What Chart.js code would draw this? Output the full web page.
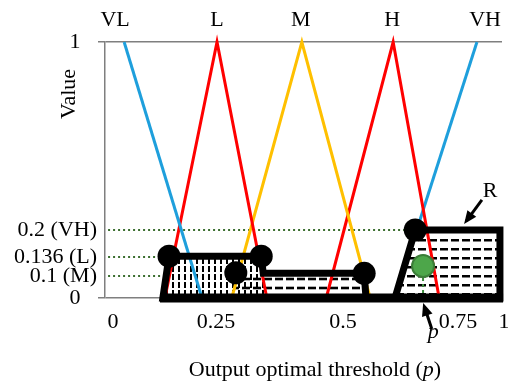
<!DOCTYPE html>
<html>
<head>
<meta charset="utf-8">
<script src="https://cdn.jsdelivr.net/npm/chart.js@4.4.1/dist/chart.umd.min.js"></script>
<style>
  html, body { margin: 0; padding: 0; background: #fff; }
  #wrap { width: 508px; height: 383px; }
</style>
</head>
<body>
<div id="wrap"><canvas id="fuzzyChart"></canvas></div>
<script>
var setNames = ["VL", "L", "M", "H", "VH"];
var setNameX = [0.005, 0.252, 0.417, 0.607, 0.897];

var vlX = [0.027, 0.216], vlY = [1, 0];
var lX = [0.126, 0.252, 0.350];
var mX = [0.281, 0.419, 0.559];
var hX = [0.467, 0.609, 0.709];
var vhX = [0.613, 0.853], vhY = [0, 1];
var triY = [0, 1, 0];

// axis ticks
var xTickValues = [0, 0.25, 0.5, 0.75, 1];
var xTickLabels = ["0", "0.25", "0.5", "0.75", "1"];
var yTickValues = [0, 0.1, 0.136, 0.2, 1];
var yTickLabels = ["0   ", "0.1 (M)", "0.136 (L)", "0.2 (VH)", "1   "];

// firing levels (dotted guides)
var levelY = [0.2, 0.136, 0.1];
var levelFromX = -0.012;
var levelToX = [0.657, 0.136, 0.289];

// clipped sets
var regionLX = [0.121, 0.136, 0.339, 0.350], regionLY = [0, 0.138, 0.138, 0];
var regionMX = [0.281, 0.289, 0.546, 0.550], regionMY = [0, 0.105, 0.105, 0];
var regionRX = [0.613, 0.657, 0.978, 0.978], regionRY = [0, 0.2, 0.2, 0];

var outlineX = [0.613, 0.657, 0.978, 0.978, 0.121, 0.136, 0.339, 0.343, 0.546, 0.550, 0.613];
var outlineY = [0, 0.2, 0.2, 0, 0, 0.138, 0.138, 0.105, 0.105, 0, 0];
var baseX = [0.114, 0.995], baseY = [0, 0];

var cornerX = [0.136, 0.339, 0.289, 0.546, 0.657];
var cornerY = [0.138, 0.138, 0.106, 0.105, 0.2];

// centroid p
var centroidX = 0.674, centroidY = 0.119;

// callouts: [tail, tip]
var rArrowX = [0.880, 0.796], rArrowY = [0.328, 0.239];
var pArrowX = [0.693, 0.677], pArrowY = [-0.141, -0.040];
var rLabelX = 0.924, rLabelY = 0.340;
var pLabelX = 0.696, pLabelY = -0.182;

function pts(xs, ys) {
  return xs.map(function (x, i) { return { x: x, y: ys[i] }; });
}

// the figure's axes are not evenly spaced, so map value -> fraction piecewise
function lerpBreaks(br, v, from, to) {
  var i = 1;
  while (i < br.length - 1 && v > br[i][from]) i++;
  var a = br[i - 1], b = br[i];
  return a[to] + (v - a[from]) * (b[to] - a[to]) / (b[from] - a[from]);
}

class BrokenScale extends Chart.LinearScale {
  getPixelForValue(value) {
    if (value === null || isNaN(value)) return NaN;
    return this.getPixelForDecimal(lerpBreaks(this.options.breaks, value, 0, 1));
  }
  getValueForPixel(pixel) {
    return lerpBreaks(this.options.breaks, this.getDecimalForPixel(pixel), 1, 0);
  }
  // labels may hang past the plot edge, as in the figure
  _calculatePadding() {
    this.paddingLeft = this.paddingRight = this.paddingTop = this.paddingBottom = 0;
  }
}
BrokenScale.id = "broken";
Chart.register(BrokenScale);

var xBreaks = [[0, 0.0202], [0.25, 0.2796], [0.5, 0.5995], [0.75, 0.8892], [1, 1.005]];
var yBreaks = [[0, 0], [0.1, 0.0859], [0.136, 0.1602], [0.2, 0.2656], [1, 1]];

function hatch(w, h, bg, rects) {
  var c = document.createElement("canvas");
  c.width = w; c.height = h;
  var g = c.getContext("2d");
  if (bg) { g.fillStyle = bg; g.fillRect(0, 0, w, h); }
  g.fillStyle = "#000";
  rects.forEach(function (r) { g.fillRect(r[0], r[1], r[2], r[3]); });
  return g.createPattern(c, "repeat");
}
var vertHatch = hatch(6, 8, "#fff", [[4, 2, 2, 6]]);
var horizHatchR = hatch(11, 9, "#fff", [[0, 5, 8, 2.5]]);
var horizHatchM = hatch(11, 9, null, [[0, 0, 8, 1.3], [0, 7.7, 8, 1.3]]);

var serif = "'Liberation Serif', 'Times New Roman', serif";
var tickFont = { family: serif, size: 22 };

function guide(i) {
  return {
    data: pts([levelFromX, levelToX[i]], [levelY[i], levelY[i]]),
    borderColor: "#3b6e2f", borderWidth: 2, borderDash: [2, 3],
    pointRadius: 0, order: 70
  };
}
function tri(xs, ys, color) {
  return { data: pts(xs, ys), borderColor: color, borderWidth: 3, pointRadius: 0, order: 50 };
}
function area(xs, ys, pattern, order) {
  return {
    data: pts(xs, ys), fill: "origin", backgroundColor: pattern,
    borderWidth: 0, pointRadius: 0, order: order
  };
}
function shaft(xs, ys) {
  return { data: pts(xs, ys), borderColor: "#000", borderWidth: 3, pointRadius: 0, order: 20 };
}

// filled head just past the tip of an arrow given in data units
function arrowHead(ctx, sx, sy, xs, ys) {
  var x0 = sx.getPixelForValue(xs[0]), y0 = sy.getPixelForValue(ys[0]);
  var x1 = sx.getPixelForValue(xs[1]), y1 = sy.getPixelForValue(ys[1]);
  var a = Math.atan2(y1 - y0, x1 - x0), c = Math.cos(a), s = Math.sin(a);
  var tx = x1 + 4 * c, ty = y1 + 4 * s, len = 13, half = 5.5;
  ctx.beginPath();
  ctx.moveTo(tx, ty);
  ctx.lineTo(tx - len * c + half * s, ty - len * s - half * c);
  ctx.lineTo(tx - len * c - half * s, ty - len * s + half * c);
  ctx.closePath();
  ctx.fill();
}

var textPlugin = {
  id: "figText",
  afterDraw: function (chart) {
    var ctx = chart.ctx, sx = chart.scales.x, sy = chart.scales.y;
    ctx.save();
    ctx.fillStyle = "#000";
    arrowHead(ctx, sx, sy, rArrowX, rArrowY);
    arrowHead(ctx, sx, sy, pArrowX, pArrowY);

    ctx.textBaseline = "alphabetic";
    ctx.textAlign = "center";
    ctx.font = "22px " + serif;
    ctx.fillText("R", sx.getPixelForValue(rLabelX), sy.getPixelForValue(rLabelY));
    ctx.font = "italic 22px " + serif;
    ctx.fillText("p", sx.getPixelForValue(pLabelX), sy.getPixelForValue(pLabelY));

    // x title, with italic p
    var pre = "Output optimal threshold (", post = ")";
    ctx.font = "22px " + serif;
    var w1 = ctx.measureText(pre).width, w3 = ctx.measureText(post).width;
    ctx.font = "italic 22px " + serif;
    var w2 = ctx.measureText("p").width;
    var left = 315 - (w1 + w2 + w3) / 2, base = 376;
    ctx.textAlign = "left";
    ctx.font = "22px " + serif;
    ctx.fillText(pre, left, base);
    ctx.font = "italic 22px " + serif;
    ctx.fillText("p", left + w1, base);
    ctx.font = "22px " + serif;
    ctx.fillText(post, left + w1 + w2, base);

    // y title
    ctx.translate(75, 94);
    ctx.rotate(-Math.PI / 2);
    ctx.textAlign = "center";
    ctx.fillText("Value", 0, 0);
    ctx.restore();
  }
};

var chart = new Chart(document.getElementById("fuzzyChart"), {
  type: "line",
  data: {
    datasets: [
      guide(0), guide(1), guide(2),
      area(regionLX, regionLY, vertHatch, 60),
      area(regionMX, regionMY, horizHatchM, 59),
      area(regionRX, regionRY, horizHatchR, 58),
      tri(vlX, vlY, "#1e9fdc"),
      tri(lX, triY, "#ff0000"),
      tri(mX, triY, "#ffc000"),
      tri(hX, triY, "#ff0000"),
      tri(vhX, vhY, "#1e9fdc"),
      {
        data: pts([centroidX, centroidX], [centroidY, 0]),
        borderColor: "#3b8a3b", borderWidth: 2, borderDash: [3, 3], pointRadius: 0, order: 45
      },
      { data: pts(baseX, baseY), borderColor: "#000", borderWidth: 9, pointRadius: 0, order: 40 },
      {
        data: pts(outlineX, outlineY), borderColor: "#000", borderWidth: 7,
        borderJoinStyle: "miter", pointRadius: 0, order: 40
      },
      {
        data: pts(cornerX, cornerY), showLine: false, pointRadius: 11.5,
        pointBackgroundColor: "#000", pointBorderWidth: 0, order: 30
      },
      {
        data: [{ x: centroidX, y: centroidY }], showLine: false, pointRadius: 11,
        pointBackgroundColor: "#4da64a", pointBorderColor: "#3b7d38", pointBorderWidth: 2, order: 10
      },
      shaft(rArrowX, rArrowY),
      shaft(pArrowX, pArrowY)
    ]
  },
  options: {
    responsive: true,
    maintainAspectRatio: false,
    animation: false,
    events: [],
    clip: false,
    layout: { autoPadding: false, padding: { top: 0, right: 6, bottom: 0, left: 0 } },
    datasets: { line: { clip: false, tension: 0 } },
    plugins: { legend: { display: false }, tooltip: { enabled: false } },
    scales: {
      x: {
        type: "broken", position: "bottom", min: -0.019, max: 0.989, breaks: xBreaks,
        afterBuildTicks: function (s) { s.ticks = xTickValues.map(function (v) { return { value: v }; }); },
        afterFit: function (s) { s.height = 85; },
        grid: { display: false, drawTicks: false },
        border: { display: false },
        ticks: {
          autoSkip: false, maxRotation: 0, padding: 11, color: "#000", font: tickFont,
          callback: function (v, i) { return xTickLabels[i]; }
        }
      },
      names: {
        type: "broken", position: "top", axis: "x", min: -0.019, max: 0.989, breaks: xBreaks,
        afterBuildTicks: function (s) { s.ticks = setNameX.map(function (v) { return { value: v }; }); },
        afterFit: function (s) { s.height = 42; },
        grid: { display: false, drawTicks: false },
        border: { display: false },
        ticks: {
          autoSkip: false, maxRotation: 0, padding: 9, color: "#000", font: tickFont,
          callback: function (v, i) { return setNames[i]; }
        }
      },
      y: {
        type: "broken", position: "left", min: 0, max: 1, breaks: yBreaks,
        afterBuildTicks: function (s) { s.ticks = yTickValues.map(function (v) { return { value: v }; }); },
        afterFit: function (s) { s.width = 105; },
        grid: {
          lineWidth: 1.5, tickLength: 7,
          color: function (c) {
            return c.tick && (c.tick.value === 0 || c.tick.value === 1) ? "#7f7f7f" : "rgba(0,0,0,0)";
          }
        },
        border: { display: true, color: "#7f7f7f", width: 1.5 },
        ticks: {
          autoSkip: false, padding: 1, color: "#000", font: tickFont,
          callback: function (v, i) { return yTickLabels[i]; }
        }
      }
    }
  },
  plugins: [textPlugin]
});
</script>
</body>
</html>
